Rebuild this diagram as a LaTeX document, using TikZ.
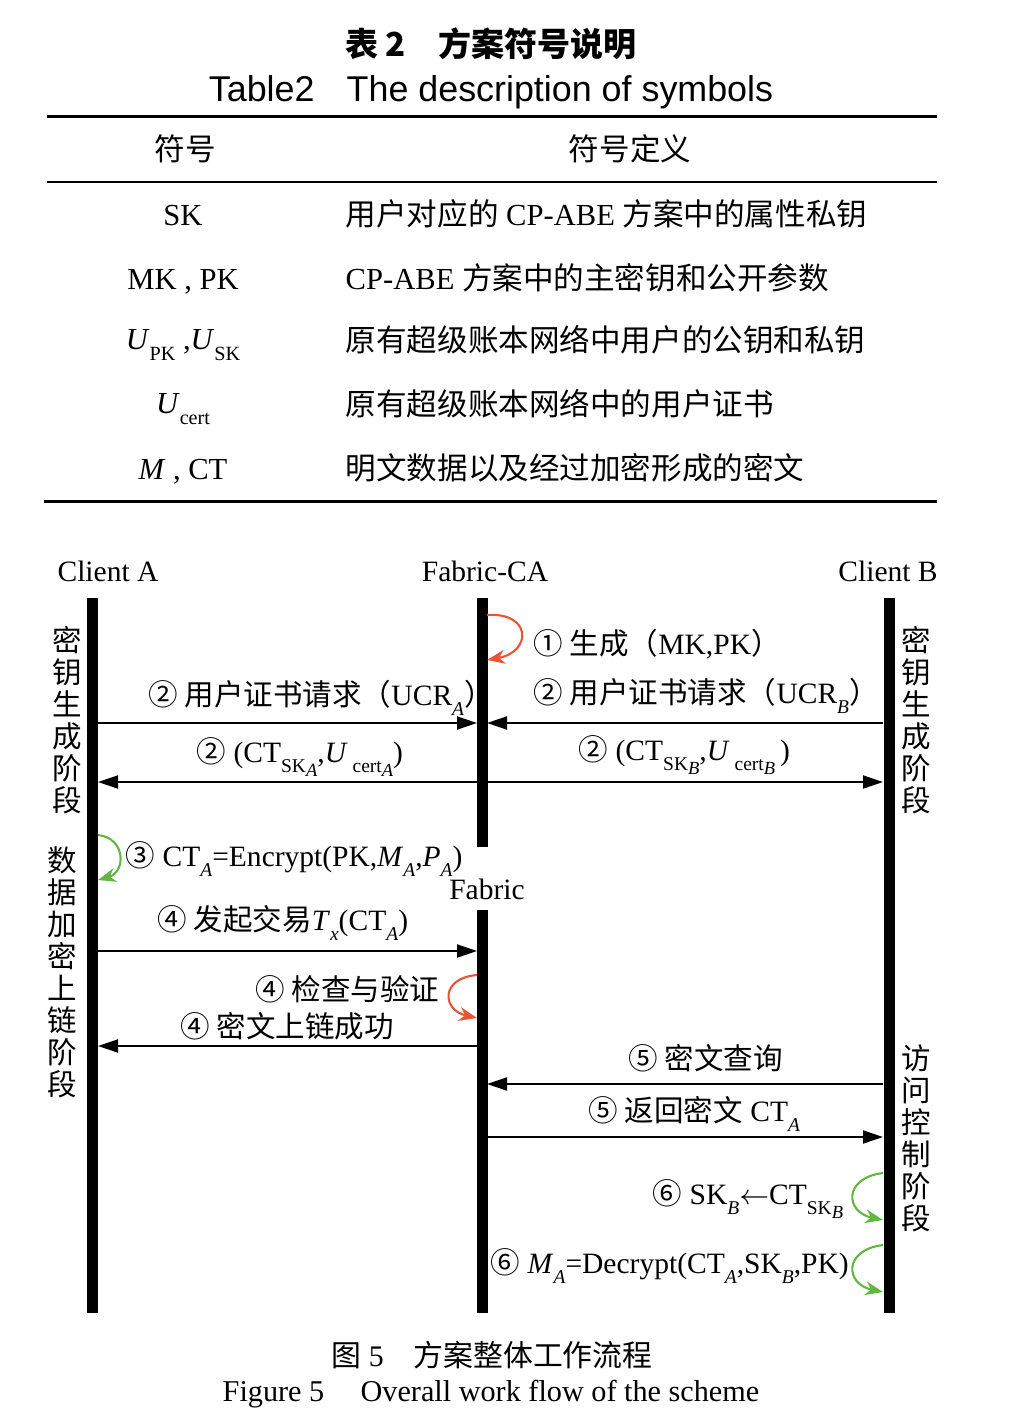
\documentclass[tikz,border=0pt]{standalone}
\usepackage{fontspec}
\setmainfont{Liberation Serif}
\newfontfamily\cjk{Noto Sans CJK SC}
\newfontfamily\arial{Liberation Sans}
\usetikzlibrary{arrows.meta}
\definecolor{loopred}{RGB}{234,84,52}
\definecolor{loopgreen}{RGB}{96,184,64}
\newcommand{\zh}[1]{{\cjk #1}}
\newcommand{\sbs}[1]{\raisebox{-0.75ex}{\scalebox{0.66}{#1}}}
\newcommand{\sbb}[1]{\raisebox{-0.45ex}{\scalebox{0.95}{#1}}}

\begin{document}
\begin{tikzpicture}[x=0.1mm,y=-0.1mm,
life/.style={line width=1.1mm},
msg/.style={line width=0.55pt,-{Triangle[length=2mm,width=1.3mm]}},
selfred/.style={loopred,line width=0.6pt,-{Stealth[length=1.8mm,width=1.4mm]}},
selfgreen/.style={loopgreen,line width=0.6pt,-{Stealth[length=1.8mm,width=1.4mm]}},
lbl/.style={inner sep=0pt,anchor=base west,font=\fontsize{8.4}{10}\selectfont},
tab/.style={inner sep=0pt,font=\fontsize{8.7}{10}\selectfont},
stage/.style={inner sep=0pt,align=center,font=\cjk\fontsize{8.4}{9.1}\selectfont}]

\useasboundingbox (0,0) rectangle (1026,1428);

% table of symbols
\node[inner sep=0pt,anchor=base,font=\cjk\bfseries\fontsize{9.4}{10}\selectfont] (title) at (491,57) {表 2\hspace{1em}方案符号说明};
\node[inner sep=0pt,anchor=base,font=\arial\fontsize{10.2}{11}\selectfont] (etitle) at (491,102) {Table2\hspace{0.9em}The description of symbols};

\draw[line width=0.3mm] (47,117) -- (937,117);
\draw[line width=0.2mm] (47,182) -- (937,182);
\draw[line width=0.3mm] (44,501) -- (937,501);

\node[tab,anchor=base] (h1) at (185,161) {\zh{符号}};
\node[tab,anchor=base] (h2) at (630,161) {\zh{符号定义}};

\node[tab,anchor=base] (s1) at (183,226) {SK};
\node[tab,anchor=base] (s2) at (183,290) {MK , PK};
\node[tab,anchor=base] (s3) at (183,350) {\textit{U}\sbs{PK} ,\textit{U}\sbs{SK}};
\node[tab,anchor=base] (s4) at (183,414) {\textit{U}\sbs{cert}};
\node[tab,anchor=base] (s5) at (183,479) {\textit{M} , CT};

\node[tab,anchor=base west] (d1) at (345,226) {\zh{用户对应的} CP-ABE \zh{方案中的属性私钥}};
\node[tab,anchor=base west] (d2) at (345,290) {CP-ABE \zh{方案中的主密钥和公开参数}};
\node[tab,anchor=base west] (d3) at (345,352) {\zh{原有超级账本网络中用户的公钥和私钥}};
\node[tab,anchor=base west] (d4) at (345,416) {\zh{原有超级账本网络中的用户证书}};
\node[tab,anchor=base west] (d5) at (345,479) {\zh{明文数据以及经过加密形成的密文}};

% work flow
\node[lbl,anchor=base] (cla) at (108,581) {Client A};
\node[lbl,anchor=base] (fca) at (485,581) {Fabric-CA};
\node[lbl,anchor=base] (clb) at (888,581) {Client B};
\node[lbl,anchor=base] (fab) at (487,899) {Fabric};

\coordinate (ta) at (92,598);
\coordinate (ba) at (92,1313);
\coordinate (tc) at (482,598);
\coordinate (bc) at (482,847);
\coordinate (tf) at (482,910);
\coordinate (bf) at (482,1313);
\coordinate (tb) at (889,598);
\coordinate (bb) at (889,1313);

\draw[life] (ta)--(ba) (tc)--(bc) (tf)--(bf) (tb)--(bb);

\node[stage] (ka) at (67,720) {密\\钥\\生\\成\\阶\\段};
\node[stage] (kb) at (916,720) {密\\钥\\生\\成\\阶\\段};
\node[stage] (ea) at (62,972) {数\\据\\加\\密\\上\\链\\阶\\段};
\node[stage] (ab) at (916,1138) {访\\问\\控\\制\\阶\\段};

\foreach \n/\y in {2/723,4/782,7/951,9/1046,10/1084,11/1137}
{
\coordinate (a\n) at (98,\y);
\coordinate (c\n) at (477,\y);
\coordinate (d\n) at (487,\y);
\coordinate (b\n) at (883,\y);
}

\draw[msg] (a2)--(c2);
\draw[msg] (b2)--(d2);
\draw[msg] (c4)--(a4);
\draw[msg] (d4)--(b4);
\draw[msg] (a7)--(c7);
\draw[msg] (c9)--(a9);
\draw[msg] (b10)--(d10);
\draw[msg] (d11)--(b11);

% self loops
\coordinate (r1) at (487,615);
\coordinate (r2) at (487,660);
\coordinate (g1) at (98,835);
\coordinate (g2) at (98,880);
\coordinate (r3) at (477,975);
\coordinate (r4) at (477,1018);
\coordinate (g3) at (883,1173);
\coordinate (g4) at (883,1220);
\coordinate (g5) at (883,1245);
\coordinate (g6) at (883,1292);

\draw[selfred] (r1) .. controls (532,612) and (532,652) .. (r2);
\draw[selfgreen] (g1) .. controls (126,838) and (126,872) .. (g2);
\draw[selfred] (r3) .. controls (440,978) and (442,1010) .. (r4);
\draw[selfgreen] (g3) .. controls (843,1178) and (845,1212) .. (g4);
\draw[selfgreen] (g5) .. controls (843,1250) and (845,1284) .. (g6);

\node[lbl] (m1) at (533,654) {\zh{① 生成（}MK,PK\zh{）}};
\node[lbl] (m2) at (148,705) {\zh{② 用户证书请求（}UCR\sbs{\textit{A}}\zh{）}};
\node[lbl] (m3) at (533,703) {\zh{② 用户证书请求（}UCR\sbs{\textit{B}}\zh{）}};
\node[lbl] (m4) at (196,762) {\zh{②} (CT\sbs{SK\sbb{\textit{A}}},\textit{U}\,\sbs{cert\sbb{\textit{A}}})};
\node[lbl] (m5) at (578,760) {\zh{②} (CT\sbs{SK\sbb{\textit{B}}},\textit{U}\,\sbs{cert\sbb{\textit{B}}}\,)};
\node[lbl] (m6) at (125,866) {\zh{③} CT\sbs{\textit{A}}=Encrypt(PK,\textit{M}\sbs{\textit{A}},\textit{P}\sbs{\textit{A}})};
\node[lbl] (m7) at (157,930) {\zh{④ 发起交易}\textit{T}\sbs{\textit{x}}(CT\sbs{\textit{A}})};
\node[lbl,anchor=base east] (m8) at (440,1000) {\zh{④ 检查与验证}};
\node[lbl] (m9) at (180,1037) {\zh{④ 密文上链成功}};
\node[lbl] (m10) at (628,1069) {\zh{⑤ 密文查询}};
\node[lbl] (m11) at (588,1121) {\zh{⑤ 返回密文} CT\sbs{\textit{A}}};
\node[lbl] (m12) at (652,1204) {\zh{⑥} SK\sbs{\textit{B}}$\leftarrow$CT\sbs{SK\sbb{\textit{B}}}};
\node[lbl] (m13) at (490,1273) {\zh{⑥} \textit{M}\sbs{\textit{A}}=Decrypt(CT\sbs{\textit{A}},SK\sbs{\textit{B}},PK)};

% caption
\node[lbl,anchor=base,font=\fontsize{8.5}{10}\selectfont] (cap) at (492,1366) {\zh{图} 5\hspace{1em}\zh{方案整体工作流程}};
\node[lbl,anchor=base,font=\fontsize{8.6}{10}\selectfont] (ecap) at (491,1401) {Figure 5\hspace{1.2em}Overall work flow of the scheme};
\end{tikzpicture}
\end{document}
